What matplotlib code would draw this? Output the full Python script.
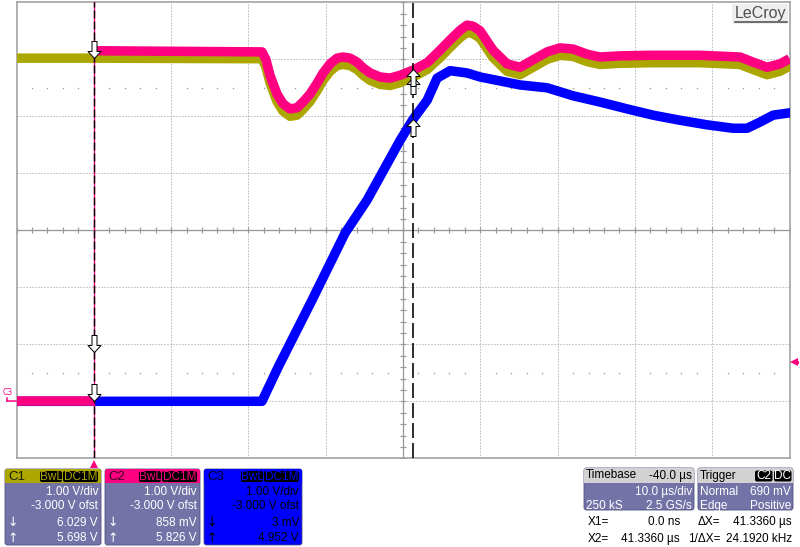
import numpy as np
import matplotlib
matplotlib.use("Agg")
import matplotlib.pyplot as plt
from matplotlib.path import Path
from matplotlib.patches import Rectangle, FancyBboxPatch
from matplotlib.transforms import blended_transform_factory

# ---------------- data (read from the reference screen) ----------------
# time in microseconds relative to trigger, voltage in volts
t_pre = [-10.0, 0.0]
c1_pre = [6.02, 6.02]
c2_pre = [0.0, 0.0]

t_post = [0.0, 21.76, 22.28, 22.79, 23.70, 24.48, 25.38, 26.29, 27.06, 27.97,
          28.88, 29.66, 30.56, 31.47, 32.25, 33.16, 34.06, 34.84, 35.75, 37.04,
          38.33, 39.63, 41.31, 43.12, 44.80, 46.09, 47.39, 48.29, 49.07, 49.97,
          51.65, 53.46, 55.14, 56.82, 58.64, 60.32, 62.00, 63.81, 65.49, 68.08,
          71.96, 78.43, 83.61, 85.29, 87.10, 88.78, 90.0]
c2_post = [6.15, 6.13, 5.99, 5.72, 5.39, 5.22, 5.13, 5.15, 5.25, 5.39,
           5.58, 5.76, 5.92, 6.02, 6.04, 6.02, 5.95, 5.85, 5.76, 5.69,
           5.67, 5.72, 5.81, 5.94, 6.16, 6.34, 6.51, 6.60, 6.58, 6.50,
           6.16, 5.92, 5.86, 5.99, 6.13, 6.20, 6.18, 6.09, 6.04, 6.06,
           6.07, 6.07, 6.04, 5.95, 5.86, 5.92, 6.01]
c1_post = [6.02, 6.01, 5.86, 5.59, 5.26, 5.09, 5.00, 5.02, 5.12, 5.26,
           5.45, 5.63, 5.79, 5.89, 5.91, 5.89, 5.82, 5.72, 5.63, 5.56,
           5.54, 5.59, 5.69, 5.82, 6.03, 6.21, 6.38, 6.47, 6.45, 6.37,
           6.03, 5.79, 5.73, 5.86, 6.00, 6.07, 6.05, 5.96, 5.91, 5.93,
           5.94, 5.94, 5.91, 5.82, 5.73, 5.79, 5.88]

t_c3 = [-10.0, 21.76, 22.28, 23.85, 28.25, 32.50, 35.35, 39.63, 41.31, 43.12,
        44.41, 46.09, 48.29, 49.97, 52.56, 55.14, 58.64, 62.00, 65.49, 68.99,
        72.35, 75.85, 79.35, 82.71, 84.52, 86.20, 87.88, 90.0]
c3 = [0.0, 0.0, 0.15, 0.60, 1.78, 2.95, 3.53, 4.58, 4.95, 5.28,
      5.67, 5.80, 5.76, 5.69, 5.62, 5.55, 5.50, 5.36, 5.25, 5.13,
      5.02, 4.93, 4.85, 4.79, 4.79, 4.90, 5.02, 5.06]

cursor_x1 = 0.0
cursor_x2 = 41.336
readout_x1 = [6.029, 0.858, 0.003]   # C1, C2, C3 at X1
readout_x2 = [5.698, 5.826, 4.952]   # C1, C2, C3 at X2
trigger_level = 0.690
channels = ["C1", "C2", "C3"]
vdiv_labels = ["1.00 V/div", "1.00 V/div", "1.00 V/div"]
ofst_labels = ["-3.000 V ofst", "-3.000 V ofst", "-3.000 V ofst"]
timebase_label = "-40.0 \u00b5s"
tdiv_label = "10.0 \u00b5s/div"
samples_label = "250 kS"
rate_label = "2.5 GS/s"
trig_mode = ["Normal", "Edge"]
trig_vals = ["690 mV", "Positive"]

# ---------------- style ----------------
PX = 0.72
FONT = ["Liberation Sans", "DejaVu Sans"]
plt.rcParams["font.family"] = FONT
YEL = "#aba700"
PINK = "#ff0080"
BLUE = "#0000ff"
GRID = "#989898"
BODY = "#7373a8"
HGRAY = "#d2d2d2"

fig = plt.figure(figsize=(8.0, 5.47), dpi=100)
ax = fig.add_axes([16.5 / 800, (547 - 458.3) / 547, 773 / 800, 456 / 547])
ax.set_xlim(-10, 90)
ax.set_ylim(-1, 7)
ax.set_xticks([])
ax.set_yticks([])
for s in ax.spines.values():
    s.set_color("#a0a0a0")
    s.set_linewidth(1.6 * PX)

# grid
for t in range(0, 90, 10):
    if t != 40:
        ax.axvline(t, color=GRID, lw=PX, ls=(0, (1, 2)), zorder=1)
for v in range(0, 7):
    if v != 3:
        ax.axhline(v, color=GRID, lw=PX, ls=(0, (1, 2)), zorder=1)
ax.axhline(3, color=GRID, lw=1.3 * PX, zorder=1)
ax.axvline(40, color=GRID, lw=1.3 * PX, zorder=1)
minor_t = np.arange(-10, 90.01, 2)
minor_v = np.arange(-1, 7.01, 0.2)
ax.plot(minor_t, np.full_like(minor_t, 3.0), ls="none", marker="|",
        ms=6 * PX, mew=1.2 * PX, color=GRID, zorder=1)
ax.plot(np.full_like(minor_v, 40.0), minor_v, ls="none", marker="_",
        ms=6 * PX, mew=1.2 * PX, color=GRID, zorder=1)
dot_t = [t for t in minor_t if abs(t / 10 - round(t / 10)) > 1e-6]
for v in (0.5, 5.5):
    ax.plot(dot_t, [v] * len(dot_t), ls="none", marker="s", ms=1.3 * PX,
            mew=0, color=GRID, zorder=1)

# traces
LW = 9.5 * PX
ax.plot(t_pre + t_post[1:], c1_pre + c1_post[1:], color=YEL, lw=LW,
        solid_joinstyle="round", zorder=3)
ax.plot(t_c3, c3, color=BLUE, lw=9.5 * PX, solid_joinstyle="round", zorder=4)
ax.plot(t_pre, c2_pre, color=PINK, lw=LW, solid_capstyle="butt", zorder=5)
ax.plot(t_post, c2_post, color=PINK, lw=LW, solid_capstyle="butt",
        solid_joinstyle="round", zorder=5)

# cursors
lw1 = 1.4 * PX
ax.axvline(cursor_x1, color=PINK, lw=lw1, zorder=6)
ax.axvline(cursor_x1, color="black", lw=lw1,
           ls=(0, (8 * PX / lw1, 3 * PX / lw1)), zorder=6)
lw2 = 1.6 * PX
ax.axvline(cursor_x2, color="black", lw=lw2,
           ls=(0, (15 * PX / lw2, 5 * PX / lw2)), zorder=6)

codes = [Path.MOVETO] + [Path.LINETO] * 6 + [Path.CLOSEPOLY]
down_v = [(0, 0), (-6.5, 7), (-2.5, 7), (-2.5, 17), (2.5, 17), (2.5, 7), (6.5, 7), (0, 0)]
up_v = [(x, -y) for x, y in down_v]
down_m = Path(down_v, codes)
up_m = Path(up_v, codes)
ax.plot([cursor_x1] * 3, readout_x1, ls="none", marker=down_m, ms=34 * PX,
        mfc="white", mec="black", mew=1.0 * PX, zorder=8, clip_on=False)
ax.plot([cursor_x2] * 3, readout_x2, ls="none", marker=up_m, ms=34 * PX,
        mfc="white", mec="black", mew=1.0 * PX, zorder=8, clip_on=False)

# trigger markers
bt = blended_transform_factory(ax.transData, ax.transAxes)
ax.plot([cursor_x1], [-5.5 / 456], transform=bt, marker="^", ms=8 * PX,
        color=PINK, mew=0, clip_on=False, zorder=8)
rt = blended_transform_factory(ax.transAxes, ax.transData)
ax.plot([1 + 4 / 773], [trigger_level], transform=rt, marker="<", ms=8 * PX,
        color=PINK, mew=0, clip_on=False, zorder=8)
ax.plot([1 + 5 / 773, 1 + 8 / 773], [trigger_level] * 2, transform=rt,
        color=PINK, lw=3 * PX, clip_on=False, zorder=8)
# channel ground marker on the left
ax.plot([-10 / 773, -1 / 773], [c2_pre[0]] * 2, transform=rt, color=PINK,
        lw=1.5 * PX, clip_on=False, zorder=8)
ax.plot([-10 / 773, -10 / 773], [c2_pre[0], c2_pre[0] + 0.06], transform=rt,
        color=PINK, lw=1.5 * PX, clip_on=False, zorder=8)
ax.text(-14 / 773, c2_pre[0] + 0.16, "C3", transform=rt, color=PINK,
        fontsize=5.5, ha="left", va="center", clip_on=False,
        family="DejaVu Sans")

# ---------------- overlay for panels and logo ----------------
ov = fig.add_axes([0, 0, 1, 1], zorder=10)
ov.set_xlim(0, 800)
ov.set_ylim(547, 0)
ov.axis("off")
ov.patch.set_alpha(0)


def txt(x, y, s, ha="left", color="white", size=8.5, **kw):
    ov.text(x, y, s, ha=ha, va="center", color=color, fontsize=size, **kw)


def rbox(x, y, w, h, fc, ec="none", lw=0, r=2.5):
    ov.add_patch(FancyBboxPatch((x, y), w, h,
                                boxstyle=f"round,pad=0,rounding_size={r}",
                                fc=fc, ec=ec, lw=lw))


def fmt(v):
    return f"{v * 1000:.0f} mV" if abs(v) < 1 else f"{v:.3f} V"


# LeCroy logo
ov.add_patch(Rectangle((732, 4), 56, 20, fc="#eeeeee", ec="none"))
txt(761, 13.5, "LeCroy", ha="center", color="#505050", size=11.5)
ov.plot([735, 787], [21.5, 21.5], color="#505050", lw=1.6 * PX)

panel_x = [(5, 101), (105, 200), (204, 302)]
ch_colors = [YEL, PINK, BLUE]
body_colors = [BODY, BODY, BLUE]
text_colors = ["white", "white", "black"]
head_text = ["#1c1c00", "#3a0020", "#000020"]
for i, (x0, x1) in enumerate(panel_x):
    rbox(x0, 469, x1 - x0, 76, body_colors[i], ec="#505080", lw=0.6)
    rbox(x0, 469, x1 - x0, 14, ch_colors[i])
    ov.add_patch(Rectangle((x0, 476), x1 - x0, 7, fc=ch_colors[i], ec="none"))
    txt(x0 + 3, 476.5, channels[i], color=head_text[i], size=9.5)
    rbox(x1 - 61, 471, 22, 11, "black", r=2)
    rbox(x1 - 38, 471, 35, 11, "black", r=2)
    txt(x1 - 50, 476.5, "BwL", ha="center", color=ch_colors[i], size=8.5)
    txt(x1 - 20.5, 476.5, "DC1M", ha="center", color=ch_colors[i], size=8.5)
    tc = text_colors[i]
    txt(x1 - 3, 492, vdiv_labels[i], ha="right", color=tc)
    txt(x1 - 3, 506, ofst_labels[i], ha="right", color=tc)
    txt(x0 + 2, 523, "\u2193", color=tc, size=9, family="DejaVu Sans")
    txt(x1 - 3, 523, fmt(readout_x1[i]), ha="right", color=tc)
    txt(x0 + 2, 538, "\u2191", color=tc, size=9, family="DejaVu Sans")
    txt(x1 - 3, 538, fmt(readout_x2[i]), ha="right", color=tc)

# timebase panel
rbox(584, 468, 110, 42, BODY, ec="#505080", lw=0.6)
rbox(584, 468, 110, 15, HGRAY)
ov.add_patch(Rectangle((584, 476), 110, 7, fc=HGRAY, ec="none"))
txt(586, 475.5, "Timebase", color="black")
txt(692, 475.5, timebase_label, ha="right", color="black")
txt(692, 492, tdiv_label, ha="right")
txt(586, 506, samples_label)
txt(692, 506, rate_label, ha="right")

# trigger panel
rbox(698, 468, 95, 42, BODY, ec="#505080", lw=0.6)
rbox(698, 468, 95, 15, HGRAY)
ov.add_patch(Rectangle((698, 476), 95, 7, fc=HGRAY, ec="none"))
txt(700, 475.5, "Trigger", color="black")
rbox(755, 470.5, 17.5, 11, "black", r=2)
rbox(774, 470.5, 17.5, 11, "black", r=2)
txt(763.7, 476, "C2", ha="center", color="white", size=8.5)
txt(782.7, 476, "DC", ha="center", color="white", size=8.5)
txt(700, 492, trig_mode[0])
txt(791, 492, trig_vals[0], ha="right")
txt(700, 506, trig_mode[1])
txt(791, 506, trig_vals[1], ha="right")

# cursor readouts
dx = cursor_x2 - cursor_x1
txt(588, 522, "X1=", color="black")
txt(680, 522, f"{cursor_x1:.1f} ns", ha="right", color="black")
txt(698, 522, "\u0394X=", color="black")
txt(792, 522, f"{dx:.4f} \u00b5s", ha="right", color="black")
txt(588, 539, "X2=", color="black")
txt(680, 539, f"{cursor_x2:.4f} \u00b5s", ha="right", color="black")
txt(688, 539, "1/\u0394X=", color="black")
txt(792, 539, f"{1000 / dx:.4f} kHz", ha="right", color="black")

fig.savefig("out.png", dpi=100, facecolor="white")
